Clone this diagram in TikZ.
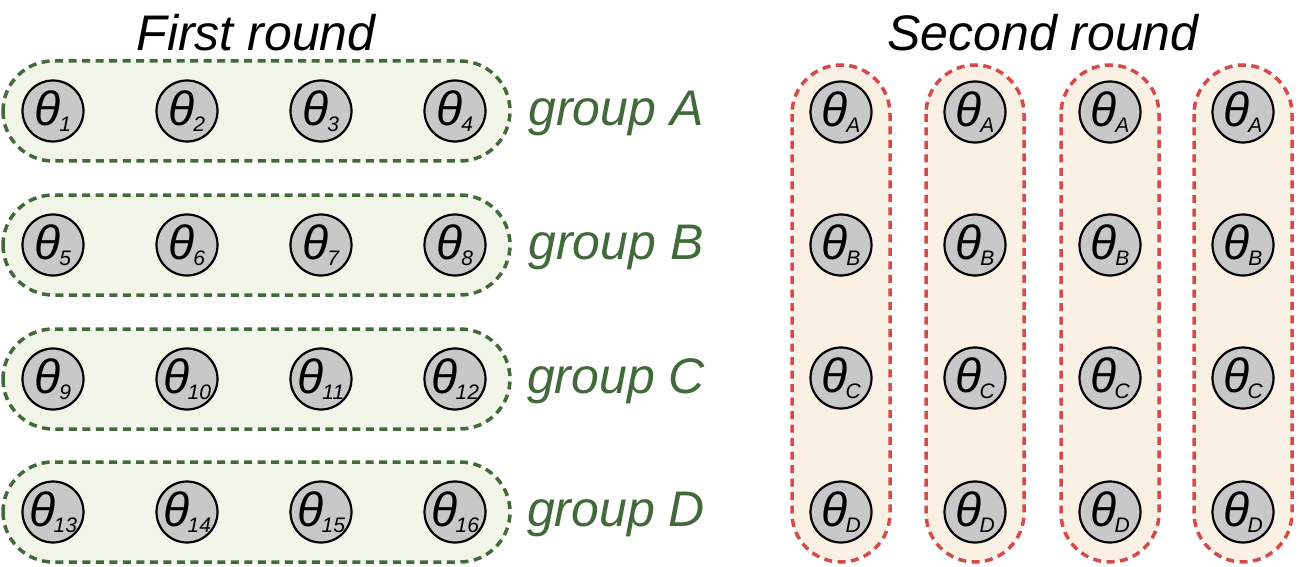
\documentclass[tikz,border=0pt]{standalone}
\usepackage{fontspec}
\setmainfont{Liberation Sans}
\definecolor{gline}{HTML}{41693A}
\definecolor{gfill}{HTML}{F2F6E9}
\definecolor{rline}{HTML}{D54B4B}
\definecolor{rfill}{HTML}{FBF0E4}
\definecolor{nfill}{HTML}{C8C8C8}
\newcommand{\partxt}[1]{\itshape\fontsize{48}{48}\selectfont θ\kern-0.03em\raisebox{-0.12em}{\fontsize{21}{21}\selectfont #1}}
\tikzset{
  par/.style={circle,draw=black,line width=2.2pt,fill=nfill,minimum size=61pt,inner sep=0pt},
  gbox/.style={draw=gline,fill=gfill,line width=3.5pt,dash pattern=on 8pt off 5.5pt,rounded corners=50pt},
  rbox/.style={draw=rline,fill=rfill,line width=3.5pt,dash pattern=on 8pt off 5.5pt,rounded corners=49pt},
  glabel/.style={text=gline,font=\itshape\fontsize{50}{50}\selectfont},
  title/.style={font=\itshape\fontsize{50}{50}\selectfont}
}
\begin{document}
\begin{tikzpicture}[x=1pt,y=-1pt]
\useasboundingbox (0,0) rectangle (1299,567);
% green groups
\foreach \y/\g in {111/A,245/B,379/C,512/D}{
  \path[gbox] (3,\y-50) rectangle (510,\y+50);
  \node[glabel] (lab\g) at (616,\y+2) {group \g};
}
% red columns
\foreach \x/\c in {841/1,975/2,1110/3,1243/4}{
  \path[rbox] (\x-49,65) rectangle (\x+49,562);
}
\node[title] (t1) at (256,33) {First round};
\node[title] (t2) at (1043,33) {Second round};
% first round nodes
\foreach \y [count=\r from 0] in {111,245,379,512}{
  \foreach \x [count=\c from 1] in {53,187,321,455}{
    \pgfmathtruncatemacro{\n}{\r*4+\c}
    \node[par,label={[inner sep=0pt]center:\partxt{\n}}] (p\n) at (\x,\y) {};
  }
}
% second round nodes
\foreach \y/\s in {112/A,245/B,378/C,512/D}{
  \foreach \x [count=\c from 1] in {841,975,1110,1243}{
    \node[par,label={[inner sep=0pt]center:\partxt{\s}}] (q\s\c) at (\x,\y) {};
  }
}
\end{tikzpicture}
\end{document}
